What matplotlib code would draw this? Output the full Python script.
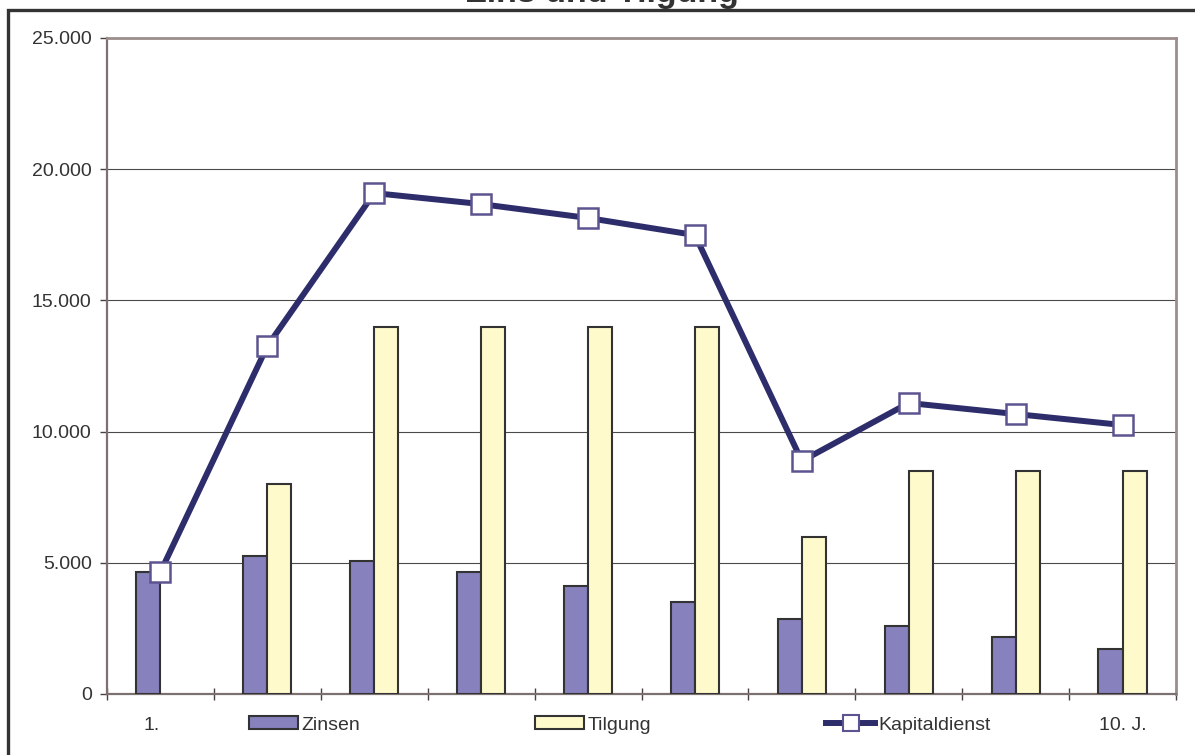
import matplotlib
matplotlib.use("Agg")
import matplotlib.pyplot as plt
from matplotlib.patches import Rectangle, Patch
from matplotlib.lines import Line2D
from matplotlib.ticker import FuncFormatter, MultipleLocator
from matplotlib.transforms import ScaledTranslation
import numpy as np

plt.rcParams['font.family'] = ['Liberation Sans', 'DejaVu Sans']

# Jahresdaten
jahre = ["1.", "", "", "", "", "", "", "", "", "10. J."]
zinsen = [4650, 5260, 5070, 4650, 4115, 3505, 2860, 2590, 2170, 1715]
tilgung = [0, 8000, 14000, 14000, 14000, 14000, 6000, 8500, 8500, 8500]
kapitaldienst = [4650, 13260, 19090, 18670, 18140, 17490, 8880, 11090, 10670, 10250]

W, H = 1195, 755
fig = plt.figure(figsize=(W / 100, H / 100), dpi=100)
fig.patch.set_facecolor('white')

# Plotbereich in Pixeln
left, right, top, bottom = 107, 1176, 38, 694
ax = fig.add_axes([left / W, 1 - bottom / H, (right - left) / W, (bottom - top) / H])

text_col = '#333333'
fs = 14

x = np.arange(len(jahre))
bw = 0.225
ax.bar(x - bw, zinsen, width=bw, align='edge', color='#8781BD',
       edgecolor='#333333', linewidth=1.5, zorder=3, label='Zinsen')
bars_t = ax.bar(x, tilgung, width=bw, align='edge', color='#FFFACC',
                edgecolor='#333333', linewidth=1.5, zorder=3, label='Tilgung')
for b, v in zip(bars_t, tilgung):
    if v == 0:
        b.set_visible(False)
ax.plot(x, kapitaldienst, color='#2E2D6B', linewidth=4.3, marker='s',
        markersize=14, markerfacecolor='white', markeredgecolor='#5C5490',
        markeredgewidth=1.8, zorder=4, label='Kapitaldienst', clip_on=False)

ax.set_xlim(-0.5, len(jahre) - 0.5)
ax.set_ylim(0, 25000)

# Gitterlinien
ax.yaxis.set_major_locator(MultipleLocator(5000))
ax.yaxis.grid(True, color='#4a4a4a', linewidth=0.8, zorder=0)
ax.set_axisbelow(True)
ax.yaxis.set_major_formatter(FuncFormatter(lambda v, p: f"{int(v):,}".replace(",", ".")))

# Kategorieachse: Striche zwischen den Gruppen, Beschriftung in der Mitte
ax.set_xticks(np.arange(-0.5, len(jahre) + 0.5, 1.0))
ax.set_xticklabels([])
ax.set_xticks(x, minor=True)
ax.set_xticklabels(jahre, minor=True)
ax.tick_params(axis='x', which='major', direction='inout', length=9, width=1, color='#4a4040')
ax.tick_params(axis='x', which='minor', length=0, pad=16.5, labelsize=fs, labelcolor=text_col)
ax.tick_params(axis='y', direction='out', length=5, width=1, color='#4a4040',
               pad=6, labelsize=fs, labelcolor=text_col)

first = ax.xaxis.get_minorticklabels()[0]
first.set_transform(first.get_transform() + ScaledTranslation(-9 / 100, 0, fig.dpi_scale_trans))

for side in ['left', 'bottom']:
    ax.spines[side].set_color('#7d7070')
    ax.spines[side].set_linewidth(1.6)
for side in ['top', 'right']:
    ax.spines[side].set_color('#9C8E8C')
    ax.spines[side].set_linewidth(2.0)

# Legende unterhalb der Achse
handles = [Patch(facecolor='#8781BD', edgecolor='#333333', linewidth=1.5, label='Zinsen'),
           Patch(facecolor='#FFFACC', edgecolor='#333333', linewidth=1.5, label='Tilgung'),
           Line2D([], [], color='#2E2D6B', linewidth=4.3, marker='s', markersize=11,
                  markerfacecolor='white', markeredgecolor='#5C5490',
                  markeredgewidth=1.5, label='Kapitaldienst')]
leg = fig.legend(handles=handles, loc='center left', bbox_to_anchor=(249 / W, 1 - 725 / H),
                 ncol=3, frameon=False, fontsize=fs, handlelength=2.5, handleheight=0.65,
                 handletextpad=0.2, columnspacing=9.0, borderpad=0, borderaxespad=0)
for t in leg.get_texts():
    t.set_color(text_col)

# Titel und Rahmen
fig.text(602 / W, 1 - 2 / H, "Zins und Tilgung", ha='center', va='baseline',
         fontsize=24.5, fontweight='bold', color=text_col)
fig.add_artist(Rectangle((7.5 / W, -0.05), 1.2, 1 - 9.5 / H + 0.05,
                         transform=fig.transFigure, fill=False,
                         edgecolor='#333333', linewidth=2.4, clip_on=False))

fig.savefig("out.png", dpi=100)
